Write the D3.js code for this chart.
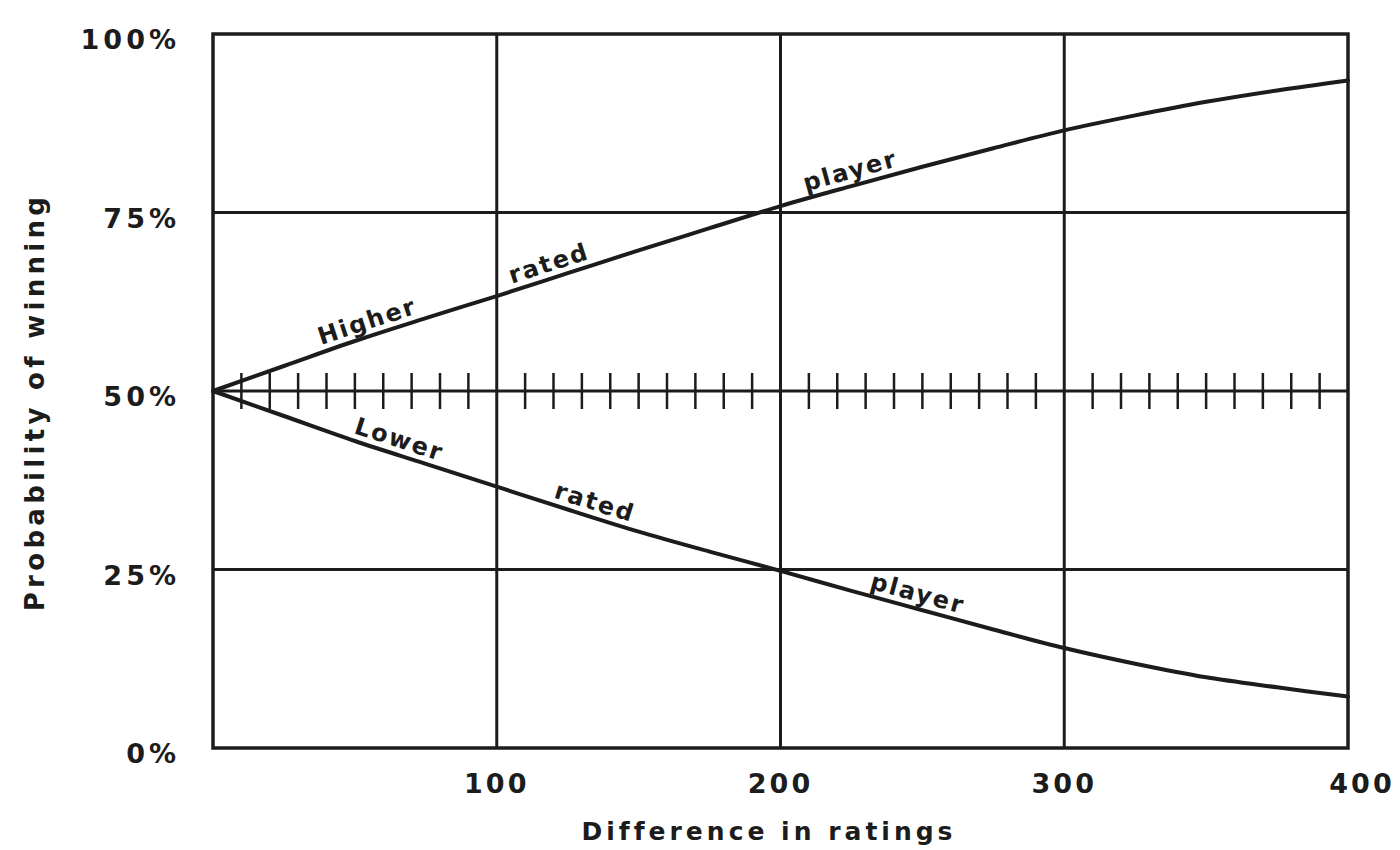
<!DOCTYPE html>
<html>
<head>
<meta charset="utf-8">
<script src="https://cdn.jsdelivr.net/npm/d3@7"></script>
<style>
  html, body { margin: 0; padding: 0; background: #fff; }
  svg { display: block; }
  text { font-family: "DejaVu Sans", sans-serif; font-weight: bold; fill: #1c1c1c; }
</style>
</head>
<body>
<svg id="chart" width="1400" height="850"></svg>
<script>
// ---- data ----
const ratingDiff = [0, 25, 50, 75, 100, 125, 150, 175, 200, 225, 250, 275, 300, 325, 350, 375, 400];
const higherRated = [50, 53.5, 57, 60.2, 63.3, 66.5, 69.7, 72.8, 75.9, 78.7, 81.4, 84.0, 86.5, 88.6, 90.5, 92.1, 93.5];
const lowerRated  = [50, 46.5, 43, 39.8, 36.6, 33.4, 30.3, 27.5, 24.8, 22.0, 19.3, 16.6, 14.0, 11.8, 9.9, 8.5, 7.2];
const xTicks = [100, 200, 300, 400];
const xTickLabels = ["100", "200", "300", "400"];
const yTicks = [0, 25, 50, 75, 100];
const yTickLabels = ["0%", "25%", "50%", "75%", "100%"];
const minorTicks = d3.range(10, 400, 10).filter(v => v % 100 !== 0);
const higherLabels = [{ text: "Higher", at: 56 }, { text: "rated", at: 120 }, { text: "player", at: 226 }];
const lowerLabels  = [{ text: "Lower", at: 64 }, { text: "rated", at: 133 }, { text: "player", at: 247 }];
const xTitle = "Difference in ratings";
const yTitle = "Probability of winning";

// ---- layout ----
const svg = d3.select("#chart");
const ink = "#1c1c1c";
const x = d3.scaleLinear().domain([0, 400]).range([213, 1348]);
const y = d3.scaleLinear().domain([0, 100]).range([748, 34]);

// grid
const grid = svg.append("g").attr("stroke", ink).attr("stroke-width", 3);
grid.selectAll("line.v").data(xTicks.filter(v => v < 400)).join("line")
  .attr("x1", d => x(d)).attr("x2", d => x(d)).attr("y1", y(100)).attr("y2", y(0));
grid.selectAll("line.h").data(yTicks.filter(v => v > 0 && v < 100)).join("line")
  .attr("x1", x(0)).attr("x2", x(400)).attr("y1", d => y(d)).attr("y2", d => y(d));

// frame
svg.append("rect")
  .attr("x", x(0)).attr("y", y(100))
  .attr("width", x(400) - x(0)).attr("height", y(0) - y(100))
  .attr("fill", "none").attr("stroke", ink).attr("stroke-width", 3.5);

// minor ticks on the 50% line
svg.append("g").attr("stroke", ink).attr("stroke-width", 2.5)
  .selectAll("line").data(minorTicks).join("line")
  .attr("x1", d => x(d)).attr("x2", d => x(d))
  .attr("y1", y(50) - 18).attr("y2", y(50) + 18);

// y tick labels
svg.append("g").selectAll("text").data(yTicks).join("text")
  .attr("x", 180).attr("y", d => y(d) + 15)
  .attr("text-anchor", "end")
  .attr("font-size", 27).attr("letter-spacing", 4)
  .text((d, i) => yTickLabels[i]);

// x tick labels
svg.append("g").selectAll("text").data(xTicks).join("text")
  .attr("x", d => x(d) + (d === 400 ? 14 : 0)).attr("y", y(0) + 45)
  .attr("text-anchor", "middle")
  .attr("font-size", 27).attr("letter-spacing", 3)
  .text((d, i) => xTickLabels[i]);

// axis titles
svg.append("text")
  .attr("x", 769).attr("y", 840).attr("text-anchor", "middle")
  .attr("font-size", 25).attr("letter-spacing", 4)
  .text(xTitle);
svg.append("text")
  .attr("transform", "translate(44,402) rotate(-90)")
  .attr("text-anchor", "middle")
  .attr("font-size", 26).attr("letter-spacing", 4.3)
  .text(yTitle);

// curves
const line = d3.line()
  .x((d, i) => x(ratingDiff[i]))
  .y(d => y(d))
  .curve(d3.curveCatmullRom);
[higherRated, lowerRated].forEach(series => {
  svg.append("path").datum(series)
    .attr("d", line)
    .attr("fill", "none").attr("stroke", ink)
    .attr("stroke-width", 4).attr("stroke-linecap", "round");
});

// labels along the curves
function interp(series, r) {
  const i = Math.min(Math.floor(r / 25), ratingDiff.length - 2);
  const t = (r - ratingDiff[i]) / 25;
  return series[i] + t * (series[i + 1] - series[i]);
}
function placeLabels(series, labels) {
  labels.forEach(l => {
    const px = x(l.at), py = y(interp(series, l.at));
    const p1 = [x(l.at - 10), y(interp(series, l.at - 10))];
    const p2 = [x(l.at + 10), y(interp(series, l.at + 10))];
    const ang = Math.atan2(p2[1] - p1[1], p2[0] - p1[0]) * 180 / Math.PI;
    svg.append("text")
      .attr("transform", `translate(${px},${py}) rotate(${ang})`)
      .attr("x", 0).attr("y", -7)
      .attr("text-anchor", "middle")
      .attr("font-size", 24).attr("letter-spacing", 2)
      .text(l.text);
  });
}
placeLabels(higherRated, higherLabels);
placeLabels(lowerRated, lowerLabels);
</script>
</body>
</html>
